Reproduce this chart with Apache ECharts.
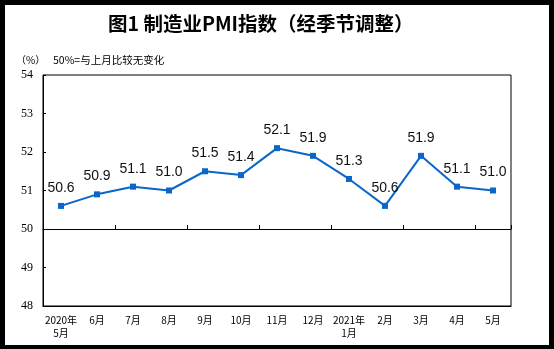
<!DOCTYPE html>
<html>
<head>
<meta charset="utf-8">
<script src="https://cdn.jsdelivr.net/npm/echarts@6/dist/echarts.min.js"></script>
<style>
html,body{margin:0;padding:0;background:#000;}
#wrap{position:absolute;left:0;top:0;width:554px;height:349px;background:#000;}
#chart{position:absolute;left:5px;top:5px;width:544px;height:340px;background:#fff;}
</style>
</head>
<body>
<div id="wrap"><div id="chart"></div></div>
<script>
const categories = ['2020年\n5月','6月','7月','8月','9月','10月','11月','12月','2021年\n1月','2月','3月','4月','5月'];
const pmiValues = [50.6, 50.9, 51.1, 51.0, 51.5, 51.4, 52.1, 51.9, 51.3, 50.6, 51.9, 51.1, 51.0];
const yTicks = [48, 49, 50, 51, 52, 53, 54];
const titleText = '图1 制造业PMI指数（经季节调整）';
const unitText = '（%）';
const noteText = '50%=与上月比较无变化';

const chart = echarts.init(document.getElementById('chart'), null, {renderer:'canvas'});
const gridTop = 70, gridLeft = 38, gridW = 468, gridH = 231;
const pxPerUnit = gridH / (yTicks[yTicks.length-1] - yTicks[0]);
const offset50 = -(50 - yTicks[0]) * pxPerUnit;

chart.setOption({
  animation: false,
  backgroundColor: '#fff',
  graphic: [
    {type:'text', left:103, top:9, style:{text:titleText, font:'bold 19.5px "Noto Sans CJK SC", sans-serif', fill:'#000'}},
    {type:'text', left:11, top:50, style:{text:unitText, font:'10px "Noto Sans CJK SC", sans-serif', fill:'#000'}},
    {type:'text', left:48, top:50, style:{text:noteText, font:'10.5px "Noto Sans CJK SC", sans-serif', fill:'#000'}}
  ],
  grid: {left:gridLeft, top:gridTop, width:gridW, height:gridH, show:true, borderColor:'#000', borderWidth:1, backgroundColor:'transparent'},
  xAxis: [
    {
      type:'category', data:categories, position:'bottom', boundaryGap:true,
      axisLine:{show:true, lineStyle:{color:'#000', width:1}},
      axisTick:{show:false},
      axisLabel:{color:'#000', fontSize:10, fontFamily:'"Noto Sans CJK SC", sans-serif', margin:8, lineHeight:13, interval:0}
    },
    {
      type:'category', data:categories, position:'bottom', offset:offset50, boundaryGap:true,
      axisLine:{show:true, lineStyle:{color:'#000', width:1}},
      axisTick:{show:true, inside:true, length:4, lineStyle:{color:'#000'}},
      axisLabel:{show:false}
    }
  ],
  yAxis: {
    type:'value', min:yTicks[0], max:yTicks[yTicks.length-1], interval:1,
    axisLine:{show:true, lineStyle:{color:'#000', width:1}},
    axisTick:{show:true, inside:true, length:3, lineStyle:{color:'#000'}},
    axisLabel:{color:'#000', fontSize:12, fontFamily:'"Liberation Serif", serif', margin:10},
    splitLine:{show:false}
  },
  series: [{
    type:'line', data:pmiValues, xAxisIndex:0,
    symbol:'rect', symbolSize:6,
    lineStyle:{color:'#0a66c8', width:2},
    itemStyle:{color:'#0a66c8'},
    label:{show:true, position:'top', distance:8, color:'#111', fontSize:14, fontFamily:'"Liberation Sans", Arial, sans-serif',
      formatter: p => p.value.toFixed(1)}
  }]
});
</script>
</body>
</html>
